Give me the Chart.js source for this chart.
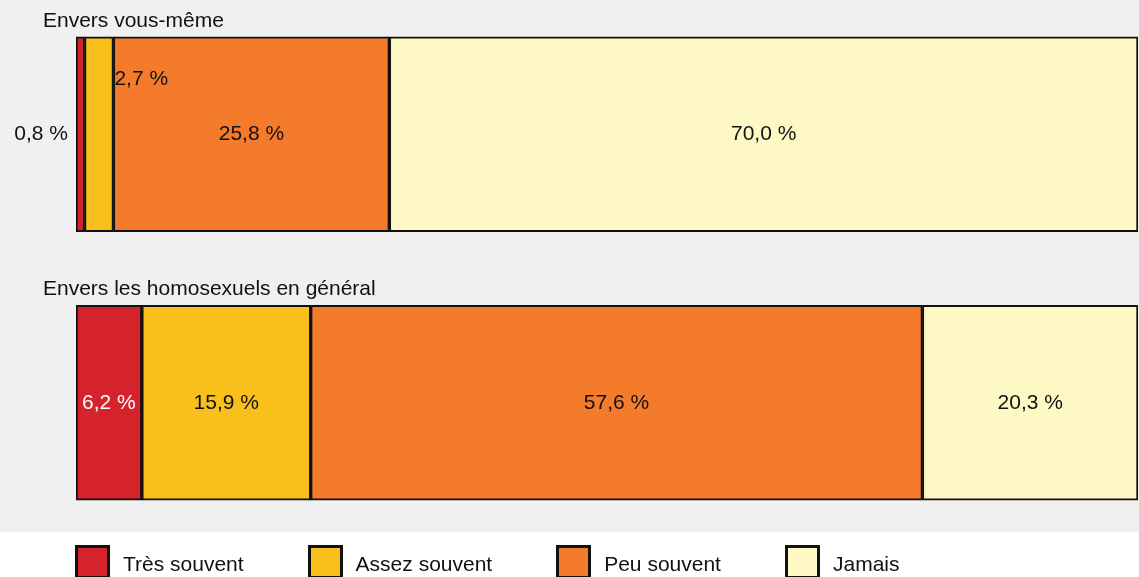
<!DOCTYPE html>
<html lang="fr">
<head>
<meta charset="utf-8">
<title>Envers vous-même / Envers les homosexuels en général</title>
<script src="https://cdn.jsdelivr.net/npm/chart.js@4/dist/chart.umd.min.js"></script>
<style>
  body { margin: 0; background: #fff; font-family: 'Liberation Sans', Arial, Helvetica, sans-serif; }
  #wrap { position: relative; width: 1139px; height: 577px; overflow: hidden; }
  #legend { position: absolute; left: 75px; top: 545px; display: flex; align-items: flex-start; font-size: 21px; color: #111; }
  .item { display: flex; align-items: flex-start; margin-right: 64px; }
  .box { width: 35px; height: 34px; box-sizing: border-box; border: 3px solid #111; margin-right: 13px; }
  .txt { line-height: 21px; margin-top: 8px; }
</style>
</head>
<body>
<div id="wrap">
  <canvas id="barChart" width="1139" height="577"></canvas>
  <div id="legend"></div>
</div>
<script>
// categories (one bar each)
const categories = ['Envers vous-même', 'Envers les homosexuels en général'];
// series
const seriesNames = ['Très souvent', 'Assez souvent', 'Peu souvent', 'Jamais'];
const tresSouvent = [0.8, 6.2];
const assezSouvent = [2.7, 15.9];
const peuSouvent = [25.8, 57.6];
const jamais = [70.0, 20.3];

const seriesValues = [tresSouvent, assezSouvent, peuSouvent, jamais];
const seriesColors = ['#d4232b', '#f9c01b', '#f47b2b', '#fef8c5'];

// each row is drawn as share of its own total (bars fill the full width)
const rowTotals = categories.map((c, j) => seriesValues.reduce((s, arr) => s + arr[j], 0));

function fmt(v) {
  return v.toFixed(1).replace('.', ',') + ' %';
}

const FONT = "21px 'Liberation Sans', Arial, Helvetica, sans-serif";

// gris de fond
const fondPlugin = {
  id: 'fond',
  beforeDraw(chart) {
    const ctx = chart.ctx;
    ctx.save();
    ctx.fillStyle = '#f0f0f0';
    ctx.fillRect(0, 0, chart.width, 532);
    ctx.restore();
  }
};

// titres au-dessus des barres + étiquettes des valeurs
const etiquettesPlugin = {
  id: 'etiquettes',
  afterDatasetsDraw(chart) {
    const ctx = chart.ctx;
    ctx.save();
    ctx.font = FONT;
    ctx.textBaseline = 'middle';

    // titres
    const meta0 = chart.getDatasetMeta(0);
    meta0.data.forEach((el, j) => {
      const p = el.getProps(['y', 'height'], true);
      ctx.fillStyle = '#111';
      ctx.textAlign = 'left';
      ctx.fillText(categories[j], 43, p.y - p.height / 2 - 16);
    });

    // valeurs
    chart.data.datasets.forEach((ds, i) => {
      const meta = chart.getDatasetMeta(i);
      meta.data.forEach((el, j) => {
        const p = el.getProps(['x', 'y', 'base', 'height'], true);
        const left = Math.min(p.x, p.base);
        const right = Math.max(p.x, p.base);
        const w = right - left;
        const txt = fmt(seriesValues[i][j]);
        const tw = ctx.measureText(txt).width;
        if (tw + 8 <= w) {
          ctx.fillStyle = i === 0 ? '#fff' : '#111';
          ctx.textAlign = 'center';
          ctx.fillText(txt, (left + right) / 2, p.y);
        } else if (i === 0) {
          ctx.fillStyle = '#111';
          ctx.textAlign = 'right';
          ctx.fillText(txt, left - 8, p.y);
        } else {
          ctx.fillStyle = '#111';
          ctx.textAlign = 'left';
          ctx.fillText(txt, right + 1, p.y - p.height / 2 + 42);
        }
      });
    });
    ctx.restore();
  }
};

const ctx = document.getElementById('barChart').getContext('2d');
new Chart(ctx, {
  type: 'bar',
  data: {
    labels: categories,
    datasets: seriesNames.map((name, i) => ({
      label: name,
      data: seriesValues[i].map((v, j) => v / rowTotals[j] * 100),
      backgroundColor: seriesColors[i],
      borderColor: '#111',
      borderWidth: 2,
      borderSkipped: false,
      barThickness: 195
    }))
  },
  options: {
    indexAxis: 'y',
    responsive: false,
    animation: false,
    layout: { padding: { left: 76, right: 1, top: 0, bottom: 40 } },
    scales: {
      x: { stacked: true, min: 0, max: 100, display: false },
      y: { stacked: true, display: false }
    },
    plugins: {
      legend: { display: false },
      tooltip: { enabled: false }
    }
  },
  plugins: [fondPlugin, etiquettesPlugin]
});

// légende
const legendEl = document.getElementById('legend');
seriesNames.forEach((name, i) => {
  const item = document.createElement('div');
  item.className = 'item';
  const box = document.createElement('span');
  box.className = 'box';
  box.style.background = seriesColors[i];
  const label = document.createElement('span');
  label.className = 'txt';
  label.textContent = name;
  item.appendChild(box);
  item.appendChild(label);
  legendEl.appendChild(item);
});
</script>
</body>
</html>
